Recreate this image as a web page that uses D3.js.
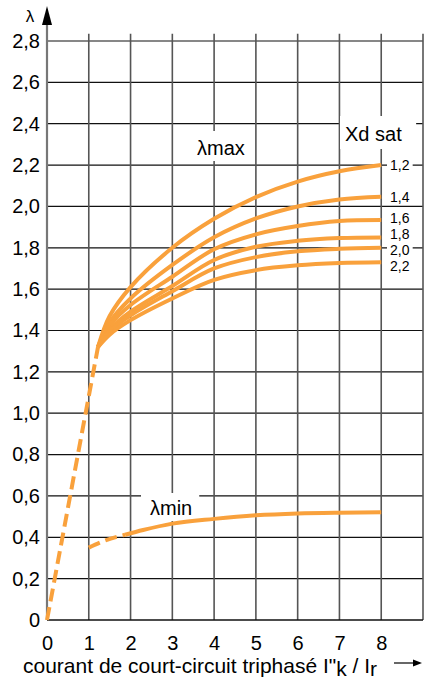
<!DOCTYPE html>
<html>
<head>
<meta charset="utf-8">
<script src="https://cdn.jsdelivr.net/npm/d3@7/dist/d3.min.js"></script>
<style>
  html, body { margin: 0; padding: 0; background: #fff; }
  svg { display: block; font-family: "Liberation Sans", Arial, Helvetica, sans-serif; }
</style>
</head>
<body>
<svg id="chart" width="425" height="681"></svg>
<script>
// Axis ticks
const xTicks = [0, 1, 2, 3, 4, 5, 6, 7, 8];
const yTicks = [0, 0.2, 0.4, 0.6, 0.8, 1.0, 1.2, 1.4, 1.6, 1.8, 2.0, 2.2, 2.4, 2.6, 2.8];

// Short-circuit current ratio sample points
const ikRatio = [1.22, 1.5, 2, 3, 4, 5, 6, 7, 8];

// λmax curves, one per saturated direct-axis reactance Xd sat
const xdSat = ["1,2", "1,4", "1,6", "1,8", "2,0", "2,2"];
const lambdaMax12 = [1.32, 1.47, 1.61, 1.80, 1.94, 2.045, 2.12, 2.17, 2.20];
const lambdaMax14 = [1.32, 1.44, 1.555, 1.717, 1.851, 1.942, 2.00, 2.034, 2.047];
const lambdaMax16 = [1.32, 1.425, 1.523, 1.66, 1.793, 1.865, 1.905, 1.929, 1.934];
const lambdaMax18 = [1.32, 1.405, 1.491, 1.615, 1.741, 1.805, 1.834, 1.847, 1.85];
const lambdaMax20 = [1.32, 1.395, 1.473, 1.59, 1.70, 1.755, 1.783, 1.795, 1.80];
const lambdaMax22 = [1.32, 1.38, 1.45, 1.555, 1.645, 1.692, 1.715, 1.726, 1.73];

// Common rising branch below the fan (dashed)
const riseX = [0, 1.22];
const riseY = [0, 1.32];

// λmin curve: dashed start, then solid
const minDashX = [1.0, 1.4, 1.87];
const minDashY = [0.35, 0.385, 0.412];
const minX = [1.87, 2.3, 3, 4, 5, 6, 7, 8];
const minY = [0.412, 0.435, 0.466, 0.489, 0.506, 0.515, 0.519, 0.521];

const orange = "#f9a13c";

const svg = d3.select("#chart");
const x = d3.scaleLinear().domain([0, 9]).range([47, 423]);
const y = d3.scaleLinear().domain([0, 2.8]).range([620, 41]);
const yTop = 2.835;

// Grid
const grid = svg.append("g");
grid.selectAll("line.h").data(yTicks.filter(d => d > 0)).join("line")
  .attr("x1", x(0)).attr("x2", x(9))
  .attr("y1", d => y(d)).attr("y2", d => y(d))
  .attr("stroke", "#111").attr("stroke-width", 1.2);
grid.selectAll("line.v").data([1, 2, 3, 4, 5, 6, 7, 8, 9]).join("line")
  .attr("x1", d => x(d)).attr("x2", d => x(d))
  .attr("y1", y(yTop)).attr("y2", y(0))
  .attr("stroke", "#555").attr("stroke-width", 1.6);

// x axis baseline
svg.append("line")
  .attr("x1", x(0)).attr("x2", x(9)).attr("y1", y(0)).attr("y2", y(0))
  .attr("stroke", "#111").attr("stroke-width", 1.5);

// y axis with arrow
svg.append("line")
  .attr("x1", x(0)).attr("x2", x(0)).attr("y1", y(0)).attr("y2", 20)
  .attr("stroke", "#777").attr("stroke-width", 2.2);
svg.append("path")
  .attr("d", `M${x(0)},6 L${x(0) - 5},25 L${x(0) + 5},25 Z`)
  .attr("fill", "#000");
svg.append("text").attr("x", 30).attr("y", 22)
  .attr("text-anchor", "middle").attr("font-size", 17).text("λ");

// Tick labels
const fmt = d => d === 0 ? "0" : d.toFixed(1).replace(".", ",");
const yAxis = svg.append("g").attr("transform", `translate(${x(0)},0)`)
  .call(d3.axisLeft(y).tickValues(yTicks).tickFormat(fmt).tickSize(0).tickPadding(7));
const xAxis = svg.append("g").attr("transform", `translate(0,${y(0)})`)
  .call(d3.axisBottom(x).tickValues(xTicks).tickFormat(d3.format("d")).tickSize(0).tickPadding(16));
[yAxis, xAxis].forEach(a => {
  a.select(".domain").remove();
  a.selectAll("text").attr("font-size", 20).attr("fill", "#000")
    .attr("font-family", "'Liberation Sans', Arial, sans-serif");
});

// Labels with white backing that interrupts the grid
function boxedLabel(txt, tx, ty, size, padL, padR, padT, padB) {
  const g = svg.append("g");
  const r = g.append("rect").attr("fill", "#fff");
  const t = g.append("text").attr("x", tx).attr("y", ty).attr("font-size", size).text(txt);
  const b = t.node().getBBox();
  r.attr("x", b.x - padL).attr("y", b.y - padT)
   .attr("width", b.width + padL + padR).attr("height", b.height + padT + padB);
  return t;
}
boxedLabel("λmax", 197, 155, 20, 8, 10, 6, 2);
boxedLabel("λmin", 150, 515, 20, 9, 7, 4, 2);
boxedLabel("Xd sat", 345, 141, 20, 5, 14, 7, 4);

// Curve end labels
const endY = [165, 197, 218, 234, 250, 266];
xdSat.forEach((lab, i) => {
  boxedLabel(lab, 390, endY[i] + 5, 14, 3, 3, -2, -3);
});

// Curves
const line = d3.line().x(d => x(d[0])).y(d => y(d[1]));
const smooth = d3.line().x(d => x(d[0])).y(d => y(d[1])).curve(d3.curveMonotoneX);
const fan = d3.line().x(d => x(d[0])).y(d => y(d[1])).curve(d3.curveCatmullRom.alpha(0.5));
const zip = (a, b) => a.map((v, i) => [v, b[i]]);

svg.append("path").datum(zip(riseX, riseY)).attr("d", line)
  .attr("fill", "none").attr("stroke", orange).attr("stroke-width", 4)
  .attr("stroke-dasharray", "13,6");

[lambdaMax12, lambdaMax14, lambdaMax16, lambdaMax18, lambdaMax20, lambdaMax22].forEach(s => {
  svg.append("path").datum(zip(ikRatio, s)).attr("d", fan)
    .attr("fill", "none").attr("stroke", orange).attr("stroke-width", 4)
    .attr("stroke-linecap", "butt");
});

svg.append("path").datum(zip(minDashX, minDashY)).attr("d", smooth)
  .attr("fill", "none").attr("stroke", orange).attr("stroke-width", 4)
  .attr("stroke-dasharray", "12,6");
svg.append("path").datum(zip(minX, minY)).attr("d", smooth)
  .attr("fill", "none").attr("stroke", orange).attr("stroke-width", 4);

// x axis title with subscripts
const title = svg.append("text").attr("x", 23).attr("y", 673).attr("font-size", 21);
title.append("tspan").text("courant de court-circuit triphasé I\"");
title.append("tspan").attr("dy", 3).text("k");
title.append("tspan").attr("dy", -3).text(" / I");
title.append("tspan").attr("dy", 3).text("r");
svg.append("line").attr("x1", 394).attr("x2", 416).attr("y1", 663).attr("y2", 663)
  .attr("stroke", "#000").attr("stroke-width", 1.2);
svg.append("path").attr("d", "M422,663 L413,659.5 L413,666.5 Z").attr("fill", "#000");
</script>
</body>
</html>
